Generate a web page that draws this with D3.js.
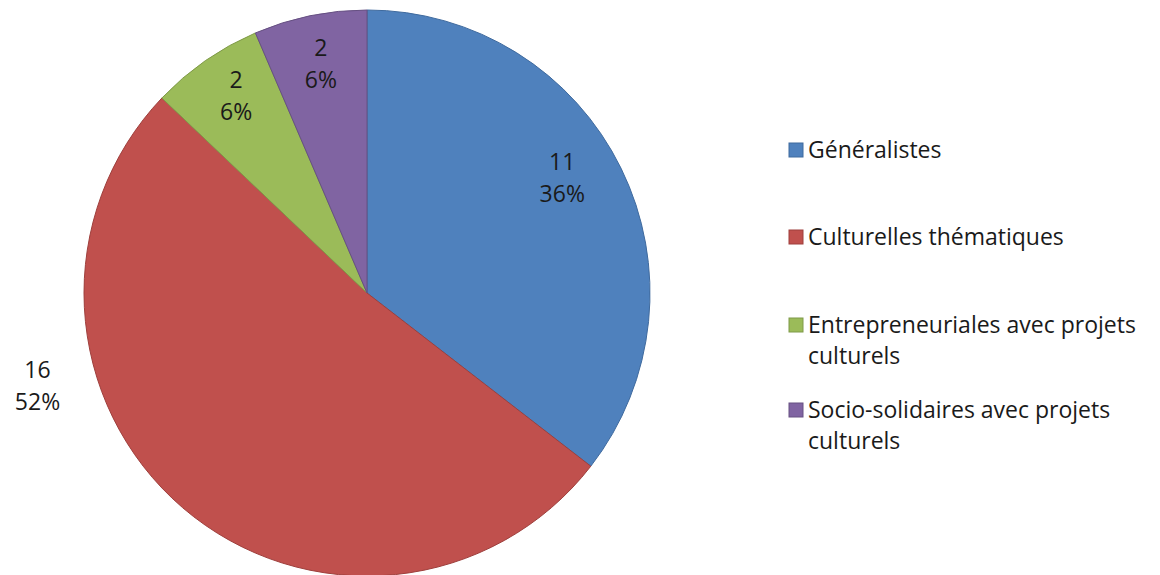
<!DOCTYPE html>
<html>
<head>
<meta charset="utf-8">
<script src="https://cdn.jsdelivr.net/npm/d3@7"></script>
<style>
  body { margin: 0; background: #fff; }
  svg { display: block; }
  text { font-family: "Open Sans", Lato, sans-serif; fill: #1a1a1a; }
</style>
</head>
<body>
<script>
const categories = ['Généralistes', 'Culturelles thématiques', 'Entrepreneuriales avec projets culturels', 'Socio-solidaires avec projets culturels'];
const legendLines = [['Généralistes'], ['Culturelles thématiques'], ['Entrepreneuriales avec projets', 'culturels'], ['Socio-solidaires avec projets', 'culturels']];
const values = [11, 16, 2, 2];
const percentLabels = ['36%', '52%', '6%', '6%'];
const colors = ['#4f81bd', '#c0504d', '#9bbb59', '#8064a2'];
const strokes = ['#3f6a9e', '#9e3f3c', '#7f9a48', '#665082'];

const width = 1160, height = 575;
const cx = 367, cy = 293, radius = 283;
const fontSize = 23;

// where each data label sits: angle (deg, clockwise from top) and radius factor
const labelAngle = [59.6, 254.2, 326.4, 348.6];
const labelRadius = [0.80, 1.21, 0.836, 0.825];

const svg = d3.select('body').append('svg')
  .attr('width', width)
  .attr('height', height);

const pie = d3.pie().sort(null).value(d => d)(values);
const arc = d3.arc().innerRadius(0).outerRadius(radius);

const g = svg.append('g').attr('transform', `translate(${cx},${cy})`);

g.selectAll('path')
  .data(pie)
  .join('path')
    .attr('d', arc)
    .attr('fill', (d, i) => colors[i])
    .attr('stroke', (d, i) => strokes[i])
    .attr('stroke-width', 1);

const label = g.selectAll('.label')
  .data(pie)
  .join('text')
    .attr('class', 'label')
    .attr('text-anchor', 'middle')
    .attr('font-size', fontSize)
    .attr('transform', (d, i) => {
      const a = labelAngle[i] * Math.PI / 180;
      const r = radius * labelRadius[i];
      return `translate(${Math.sin(a) * r},${-Math.cos(a) * r})`;
    });
label.append('tspan').attr('x', 0).attr('y', -8).text(d => d.data);
label.append('tspan').attr('x', 0).attr('y', 24).text((d, i) => percentLabels[i]);

const legendY = [150, 237, 325, 410];
const legend = svg.append('g').attr('transform', 'translate(789,0)');
const item = legend.selectAll('g')
  .data(categories)
  .join('g')
    .attr('transform', (d, i) => `translate(0,${legendY[i]})`);
item.append('rect')
  .attr('x', 0).attr('y', -7)
  .attr('width', 14).attr('height', 14)
  .attr('fill', (d, i) => colors[i])
  .attr('stroke', (d, i) => strokes[i]);
item.append('text')
  .attr('font-size', fontSize)
  .selectAll('tspan')
  .data((d, i) => legendLines[i])
  .join('tspan')
    .attr('x', 19)
    .attr('y', (d, j) => 8 + j * 31)
    .text(d => d);
</script>
</body>
</html>
